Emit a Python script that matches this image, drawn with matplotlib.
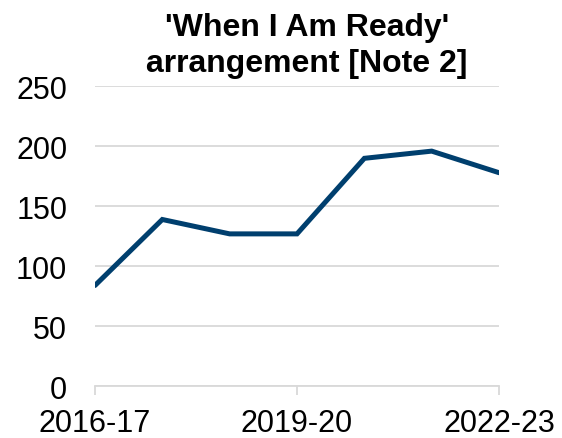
"""
Line chart: 'When I Am Ready' arrangement [Note 2], 2016-17 to 2022-23.
"""

import matplotlib
matplotlib.use("Agg")
import matplotlib.pyplot as plt

# ---------------------------------------------------------------------------
# Data
# ---------------------------------------------------------------------------

YEARS = ["2016-17", "2017-18", "2018-19", "2019-20",
         "2020-21", "2021-22", "2022-23"]
ARRANGEMENTS = [84, 139, 127, 127, 190, 196, 178]

# Only every third year is labelled on the x axis.
LABELLED_YEARS = ["2016-17", "2019-20", "2022-23"]
Y_TICKS = [0, 50, 100, 150, 200, 250]

LINE_COLOR = "#003f6e"
GRID_COLOR = "#d9d9d9"

plt.rcParams["font.family"] = ["Liberation Sans", "DejaVu Sans"]


def main():
    fig = plt.figure(figsize=(5.62, 4.39), dpi=100)
    ax = fig.add_axes([0.169, 0.118, 0.719, 0.683])

    x = list(range(len(YEARS)))
    ax.plot(x, ARRANGEMENTS, color=LINE_COLOR, linewidth=3.6,
            solid_capstyle="round", solid_joinstyle="miter", zorder=3)

    # Axes limits: data spans the full width, 0-250 on y.
    ax.set_xlim(0, len(YEARS) - 1)
    ax.set_ylim(0, 250)

    # Horizontal gridlines only, axis line at zero in the same grey.
    ax.set_yticks(Y_TICKS)
    ax.set_yticklabels([str(v) for v in Y_TICKS], fontsize=22)
    ax.grid(axis="y", color=GRID_COLOR, linewidth=1.3)
    ax.set_axisbelow(True)

    tick_pos = [YEARS.index(y) for y in LABELLED_YEARS]
    ax.set_xticks(tick_pos)
    ax.set_xticklabels(LABELLED_YEARS, fontsize=22)

    for side in ["top", "right", "left"]:
        ax.spines[side].set_visible(False)
    ax.spines["bottom"].set_color(GRID_COLOR)
    ax.spines["bottom"].set_linewidth(1.3)

    ax.tick_params(axis="y", length=0, pad=20, colors="black")
    ax.tick_params(axis="x", length=6.5, width=1.3, color=GRID_COLOR,
                   pad=9, labelcolor="black")

    # Two-line bold title, slightly right of the axes centre.
    fig.text(0.546, 0.919, "'When I Am Ready'", ha="center", va="baseline",
             fontsize=23, fontweight="bold")
    fig.text(0.546, 0.836, "arrangement [Note 2]", ha="center",
             va="baseline", fontsize=23, fontweight="bold")

    fig.savefig("out.png", dpi=100)
    plt.close(fig)


if __name__ == "__main__":
    main()
